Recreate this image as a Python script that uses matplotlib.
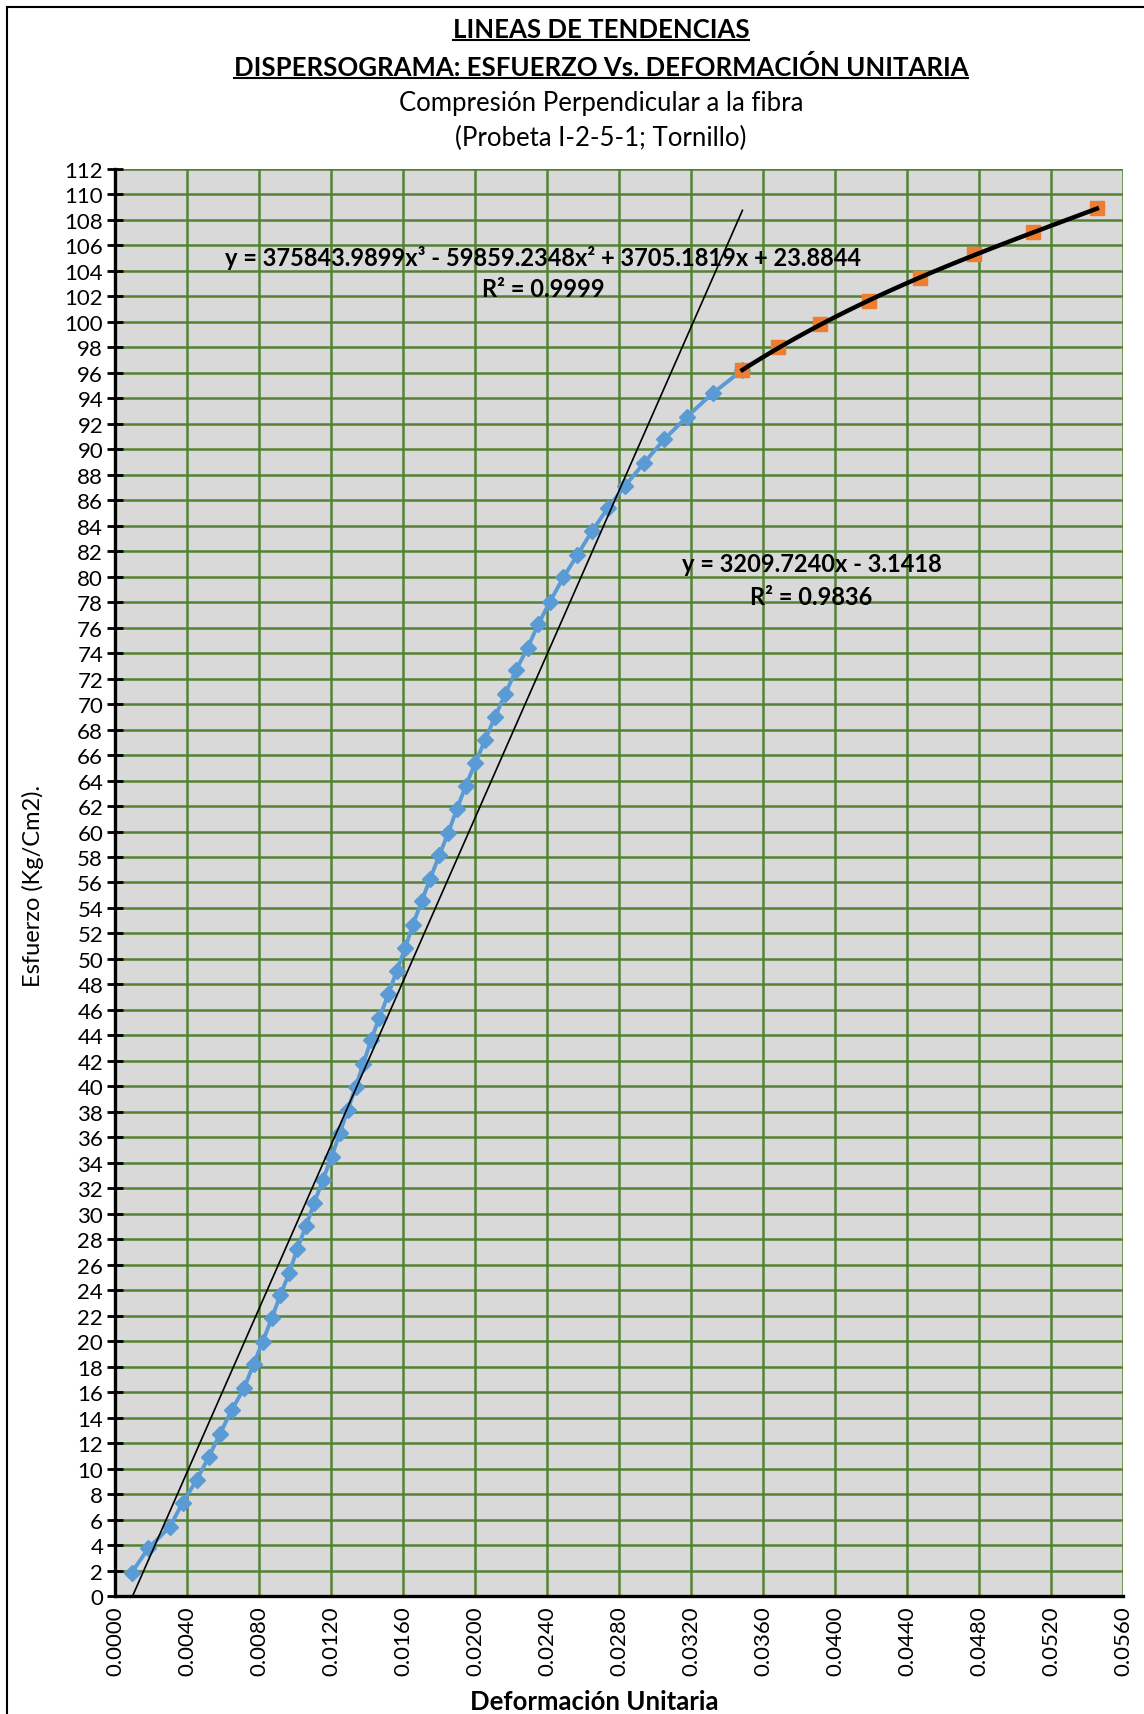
import matplotlib
matplotlib.use("Agg")
import matplotlib.pyplot as plt
import numpy as np
from matplotlib.lines import Line2D
from matplotlib.ticker import MultipleLocator, FormatStrFormatter

plt.rcParams["font.family"] = ["Lato", "DejaVu Sans"]

# ensayo: deformacion unitaria vs esfuerzo (Kg/Cm2)
def_lineal = [0.00093, 0.00185, 0.00306, 0.00376, 0.00454, 0.00522, 0.00584, 0.00648,
              0.00719, 0.00771, 0.00821, 0.00871, 0.00919, 0.00969, 0.01013, 0.01061,
              0.01108, 0.01155, 0.01204, 0.01250, 0.01293, 0.01338, 0.01380, 0.01423,
              0.01469, 0.01519, 0.01565, 0.01612, 0.01654, 0.01704, 0.01750, 0.01802,
              0.01852, 0.01899, 0.01949, 0.02001, 0.02056, 0.02112, 0.02167, 0.02228,
              0.02293, 0.02352, 0.02417, 0.02491, 0.02569, 0.02649, 0.02737, 0.02834,
              0.02941, 0.03052, 0.03179, 0.03321, 0.03486]
esf_lineal = [1.84, 3.74, 5.45, 7.33, 9.10, 10.94, 12.75, 14.58,
              16.36, 18.24, 19.97, 21.80, 23.63, 25.38, 27.27, 29.04,
              30.88, 32.66, 34.49, 36.37, 38.15, 39.98, 41.79, 43.64,
              45.40, 47.23, 49.06, 50.84, 52.65, 54.53, 56.26, 58.14,
              59.92, 61.75, 63.58, 65.36, 67.17, 69.02, 70.77, 72.66,
              74.44, 76.27, 78.05, 79.94, 81.71, 83.55, 85.36, 87.13,
              88.96, 90.79, 92.57, 94.40, 96.22]

def_plastico = [0.03486, 0.03683, 0.03918, 0.04190, 0.04470, 0.04775, 0.05100, 0.05455]
esf_plastico = [96.22, 98.05, 99.87, 101.65, 103.48, 105.31, 107.09, 108.90]

# coeficientes de las lineas de tendencia
lin_coef = [3209.7240, -3.1418]
cub_coef = [375843.9899, -59859.2348, 3705.1819, 23.8844]

verde = "#548235"
azul = "#5B9BD5"
naranja = "#ED7D31"

fig = plt.figure(figsize=(11.44, 17.15), dpi=100)
ax = fig.add_axes([0.1005, 0.0688, 0.8811, 0.8321])
ax.set_facecolor("#D9D9D9")

ax.plot(def_lineal, esf_lineal, color=azul, lw=2.8, marker="D", ms=8,
        zorder=3, clip_on=False)
ax.plot(def_plastico, esf_plastico, ls="none", marker="s", ms=9.5,
        color=naranja, zorder=4, clip_on=False)

# tendencia lineal sobre todo el rango del primer tramo
xl = np.linspace(min(def_lineal), max(def_lineal), 50)
ax.plot(xl, np.polyval(lin_coef, xl), color="black", lw=1.2, zorder=5)

# tendencia polinomica de orden 3 en el tramo final
xc = np.linspace(min(def_plastico), max(def_plastico), 100)
ax.plot(xc, np.polyval(cub_coef, xc), color="black", lw=3.2, zorder=5)

ax.set_xlim(0, 0.056)
ax.set_ylim(0, 112)
ax.xaxis.set_major_locator(MultipleLocator(0.004))
ax.xaxis.set_major_formatter(FormatStrFormatter("%.4f"))
ax.yaxis.set_major_locator(MultipleLocator(2))
ax.grid(True, color=verde, lw=1.8, zorder=1)
ax.set_axisbelow(True)

for s in ["top", "right"]:
    ax.spines[s].set_visible(False)
for s in ["left", "bottom"]:
    ax.spines[s].set_linewidth(2.4)
    ax.spines[s].set_zorder(6)

ax.tick_params(axis="y", direction="inout", length=11, width=2, labelsize=16, pad=3)
ax.tick_params(axis="x", length=0, labelsize=16, pad=7, labelrotation=90)

ax.set_xlabel("Deformación Unitaria", fontsize=18.5, fontweight="bold")
ax.set_ylabel("Esfuerzo (Kg/Cm2).", fontsize=17)
ax.xaxis.set_label_coords(0.475, -0.0738)
ax.xaxis.label.set_va("center")
ax.yaxis.set_label_coords(-0.0813, 0.498)
ax.yaxis.label.set_va("center")

ax.text(0.02378, 105.1, "y = 375843.9899x³ - 59859.2348x² + 3705.1819x + 23.8844",
        ha="center", va="center", fontsize=17, fontweight="bold", zorder=7)
ax.text(0.02378, 102.6, "R² = 0.9999", ha="center", va="center",
        fontsize=17, fontweight="bold", zorder=7)
ax.text(0.0387, 81.05, "y = 3209.7240x - 3.1418", ha="center", va="center",
        fontsize=17, fontweight="bold", zorder=7)
ax.text(0.0387, 78.45, "R² = 0.9836", ha="center", va="center",
        fontsize=17, fontweight="bold", zorder=7)

cx = 0.5254
t1 = fig.text(cx, 0.9825, "LINEAS DE TENDENCIAS", ha="center", va="center",
              fontsize=18.5, fontweight="bold")
t2 = fig.text(cx, 0.9609, "DISPERSOGRAMA: ESFUERZO Vs. DEFORMACIÓN UNITARIA",
              ha="center", va="center", fontsize=18.5, fontweight="bold")
fig.text(cx, 0.9399, "Compresión Perpendicular a la fibra", ha="center",
         va="center", fontsize=18.5)
fig.text(cx, 0.9190, "(Probeta I-2-5-1; Tornillo)", ha="center", va="center",
         fontsize=18.5)

# subrayado de las dos primeras lineas del titulo
fig.canvas.draw()
inv = fig.transFigure.inverted()
for t in (t1, t2):
    bb = t.get_window_extent()
    (x0, y0), (x1, _) = inv.transform([(bb.x0, bb.y0 + 1), (bb.x1, bb.y0 + 1)])
    fig.add_artist(Line2D([x0, x1], [y0, y0], color="black", lw=1.5))

# borde del area del grafico
fig.add_artist(Line2D([0.006, 0.006], [0, 0.9953], color="black", lw=1.5))
fig.add_artist(Line2D([0.006, 1], [0.9953, 0.9953], color="black", lw=1.5))

fig.savefig("out.png", dpi=100)
